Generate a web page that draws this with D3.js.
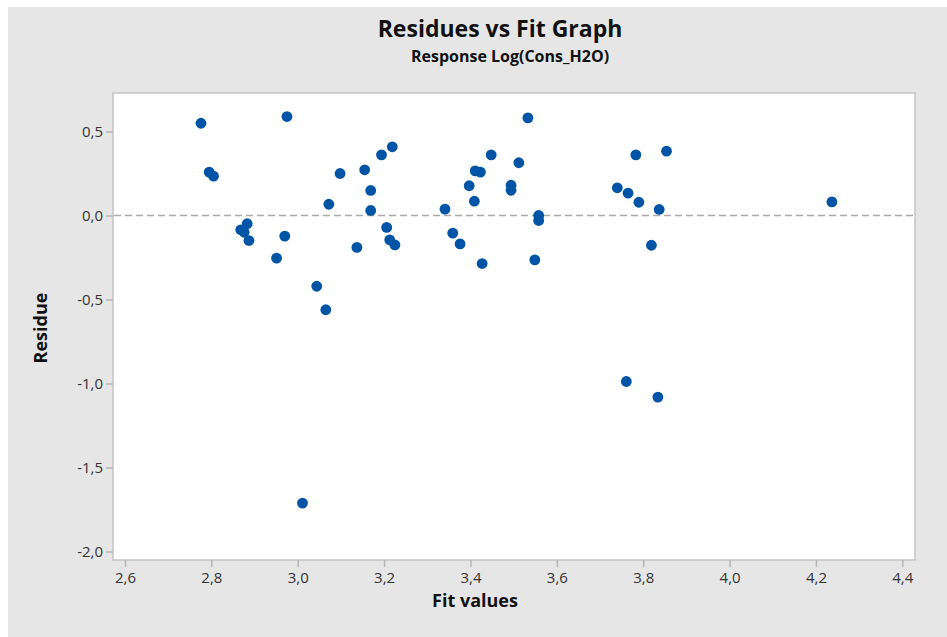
<!DOCTYPE html>
<html>
<head>
<meta charset="utf-8">
<script src="https://cdn.jsdelivr.net/npm/d3@7"></script>
<style>
  body { margin: 0; background: #fff; }
  text { font-family: "Open Sans", "Noto Sans", sans-serif; }
</style>
</head>
<body>
<div id="plot"></div>
<script>
const W = 947, H = 637;
const frame = {left: 113, right: 915, top: 93, bottom: 560};

const fitValues = [
  2.776, 2.975, 2.795, 2.805, 2.868, 2.876, 2.883, 2.887, 2.951, 2.970,
  3.011, 3.044, 3.065, 3.072, 3.098, 3.137, 3.155, 3.169, 3.169, 3.194,
  3.219, 3.206, 3.213, 3.225, 3.341, 3.359, 3.376, 3.397, 3.409, 3.411,
  3.423, 3.427, 3.448, 3.494, 3.494, 3.512, 3.533, 3.549, 3.558, 3.558,
  3.740, 3.765, 3.761, 3.783, 3.790, 3.819, 3.834, 3.837, 3.854, 4.237
];
const residues = [
  0.549, 0.589, 0.258, 0.234, -0.085, -0.100, -0.049, -0.149, -0.254, -0.123,
  -1.712, -0.421, -0.561, 0.067, 0.250, -0.190, 0.272, 0.149, 0.030, 0.361,
  0.409, -0.071, -0.145, -0.175, 0.038, -0.105, -0.169, 0.177, 0.085, 0.266,
  0.258, -0.286, 0.361, 0.180, 0.150, 0.314, 0.581, -0.264, 0.000, -0.030,
  0.165, 0.133, -0.988, 0.361, 0.079, -0.177, -1.081, 0.036, 0.383, 0.081
];
const xTicks = [2.6, 2.8, 3.0, 3.2, 3.4, 3.6, 3.8, 4.0, 4.2, 4.4];
const yTicks = [-2.0, -1.5, -1.0, -0.5, 0.0, 0.5];

const points = fitValues.map((f, i) => ({fit: f, res: residues[i]}));

const svg = d3.select("#plot")
  .append("svg")
  .attr("width", W)
  .attr("height", H);

// grey panel
svg.append("rect")
  .attr("x", 8).attr("y", 7)
  .attr("width", W - 8).attr("height", H - 7)
  .attr("fill", "#e6e6e6");

const x = d3.scaleLinear().domain([2.6, 4.4]).range([125, 902.3]);
const y = d3.scaleLinear().domain([0, 0.5]).range([215.5, 131.5]);

// plot area
svg.append("rect")
  .attr("x", frame.left).attr("y", frame.top)
  .attr("width", frame.right - frame.left)
  .attr("height", frame.bottom - frame.top)
  .attr("fill", "#fff")
  .attr("stroke", "#c3c3c3")
  .attr("stroke-width", 1.5);

const fmt = d => d3.format(".1f")(d).replace(".", ",").replace("−", "-");

const xAxis = d3.axisBottom(x).tickValues(xTicks).tickFormat(fmt).tickSize(7).tickSizeOuter(0).tickPadding(5);
const yAxis = d3.axisLeft(y).tickValues(yTicks).tickFormat(fmt).tickSize(7).tickSizeOuter(0).tickPadding(3);

const xAxisG = svg.append("g")
  .attr("transform", `translate(0,${frame.bottom})`)
  .call(xAxis);
const yAxisG = svg.append("g")
  .attr("transform", `translate(${frame.left},0)`)
  .call(yAxis);

[xAxisG, yAxisG].forEach(g => {
  g.select(".domain").remove();
  g.selectAll(".tick line").attr("stroke", "#b5b5b5").attr("stroke-width", 1.5);
  g.selectAll(".tick text")
    .attr("fill", "#333")
    .style("font-size", "15px")
    .style("font-family", "'Open Sans', 'Noto Sans', sans-serif");
});

// reference line at zero
svg.append("line")
  .attr("x1", frame.left + 1).attr("x2", frame.right - 1)
  .attr("y1", y(0)).attr("y2", y(0))
  .attr("stroke", "#a9a9a9")
  .attr("stroke-width", 1.5)
  .attr("stroke-dasharray", "7,4");

svg.append("g")
  .selectAll("circle")
  .data(points)
  .enter()
  .append("circle")
  .attr("cx", d => x(d.fit))
  .attr("cy", d => y(d.res))
  .attr("r", 5.4)
  .attr("fill", "#0054a6");

svg.append("text")
  .attr("x", 500).attr("y", 37)
  .attr("text-anchor", "middle")
  .style("font-size", "23px")
  .style("font-weight", "bold")
  .attr("fill", "#111")
  .text("Residues vs Fit Graph");

svg.append("text")
  .attr("x", 510).attr("y", 62)
  .attr("text-anchor", "middle")
  .style("font-size", "16px")
  .style("font-weight", "bold")
  .attr("fill", "#111")
  .text("Response Log(Cons_H2O)");

svg.append("text")
  .attr("x", 475).attr("y", 607)
  .attr("text-anchor", "middle")
  .style("font-size", "18px")
  .style("font-weight", "bold")
  .attr("fill", "#111")
  .text("Fit values");

svg.append("text")
  .attr("transform", "translate(47,328) rotate(-90)")
  .attr("text-anchor", "middle")
  .style("font-size", "18px")
  .style("font-weight", "bold")
  .attr("fill", "#111")
  .text("Residue");
</script>
</body>
</html>
